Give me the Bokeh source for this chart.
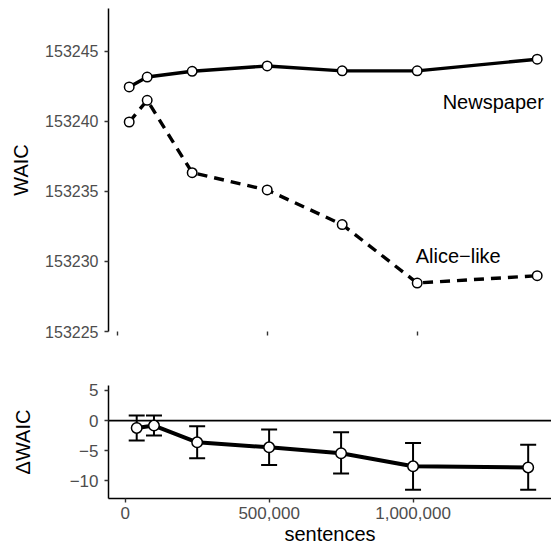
from bokeh.plotting import figure
from bokeh.layouts import column
from bokeh.models import (ColumnDataSource, FixedTicker, NumeralTickFormatter,
                          Span, Whisker, TeeHead, Range1d)
from bokeh.embed import file_html
from bokeh.resources import INLINE
from bokeh.core.properties import value

# ---- data ----
sentences = [40000, 100000, 250000, 500000, 750000, 1000000, 1400000]
waic_newspaper = [153242.45, 153243.16, 153243.57, 153243.95, 153243.6, 153243.6, 153244.43]
waic_alice = [153239.95, 153241.5, 153236.33, 153235.1, 153232.63, 153228.46, 153228.98]
delta_waic = [-1.22, -0.83, -3.62, -4.45, -5.43, -7.6, -7.78]
delta_upper = [0.83, 0.83, -0.95, -1.5, -1.96, -3.72, -4.0]
delta_lower = [-3.33, -2.5, -6.28, -7.39, -8.8, -11.5, -11.5]
top_yticks = [153225, 153230, 153235, 153240, 153245]
bottom_yticks = [-10, -5, 0, 5]
xticks = [0, 500000, 1000000]
series_labels = ["Newspaper", "Alice\u2212like"]

FONT = "Liberation Sans"
TICK_COLOR = "#333333"
LABEL_COLOR = "#4D4D4D"


def style_axes(p, tick_size):
    p.xgrid.visible = False
    p.ygrid.visible = False
    p.outline_line_color = None
    for ax in (p.xaxis[0], p.yaxis[0]):
        ax.axis_line_color = "black"
        ax.axis_line_width = 1.5
        ax.major_tick_line_color = TICK_COLOR
        ax.major_tick_line_width = 1.4
        ax.major_tick_in = 0
        ax.major_tick_out = 4
        ax.minor_tick_line_color = None
        ax.major_label_text_font = FONT
        ax.major_label_text_color = LABEL_COLOR
        ax.major_label_text_font_size = tick_size
        ax.axis_label_text_font = FONT
        ax.axis_label_text_font_style = "normal"
        ax.axis_label_text_color = "black"
        ax.axis_label_text_font_size = "20px"


# ---- top panel ----
top = figure(width=551, height=348, output_backend="svg", toolbar_location=None,
             x_range=Range1d(-29000, 1447700), y_range=Range1d(153225, 153248.05),
             min_border_left=108, min_border_right=0, min_border_top=8,
             min_border_bottom=17)
style_axes(top, "16px")
top.yaxis.ticker = FixedTicker(ticks=top_yticks)
top.yaxis.formatter = NumeralTickFormatter(format="0")
top.yaxis.axis_label = "WAIC"
top.yaxis.major_label_standoff = 6
top.yaxis.axis_label_standoff = 10
top.xaxis.ticker = FixedTicker(ticks=xticks)
top.xaxis.axis_line_color = None
top.xaxis.major_label_overrides = {t: "" for t in xticks}
top.xaxis.major_label_standoff = 0

src_top = ColumnDataSource(dict(x=sentences, news=waic_newspaper, alice=waic_alice))
top.line("x", "news", source=src_top, line_color="black", line_width=3.4)
top.line("x", "alice", source=src_top, line_color="black", line_width=3.4,
         line_dash="10 7")
top.scatter("x", "news", source=src_top, size=9.5, fill_color="white",
            line_color="black", line_width=1.5)
top.scatter("x", "alice", source=src_top, size=9.5, fill_color="white",
            line_color="black", line_width=1.5)

lab_src = ColumnDataSource(dict(x=[1422000, 995000], y=[153241.37, 153230.36],
                                text=series_labels, align=["right", "left"]))
top.text("x", "y", text="text", source=lab_src, text_align="align",
         text_baseline="alphabetic", text_font=value(FONT),
         text_font_size=value("20px"), text_color="black")

# ---- bottom panel ----
bottom = figure(width=551, height=200, output_backend="svg", toolbar_location=None,
                x_range=Range1d(-58000, 1481000), y_range=Range1d(-12.95, 5.83),
                min_border_left=108, min_border_right=0, min_border_top=37,
                min_border_bottom=50)
style_axes(bottom, "17px")
bottom.yaxis.ticker = FixedTicker(ticks=bottom_yticks)
bottom.yaxis.major_label_overrides = {-10: "\u221210", -5: "\u22125"}
bottom.yaxis.axis_label = "\u0394WAIC"
bottom.yaxis.major_label_standoff = 6
bottom.yaxis.axis_label_standoff = 33
bottom.xaxis.ticker = FixedTicker(ticks=xticks)
bottom.xaxis.formatter = NumeralTickFormatter(format="0,0")
bottom.xaxis.axis_label = "sentences"
bottom.xaxis.major_label_standoff = 4
bottom.xaxis.axis_label_standoff = 1

bottom.add_layout(Span(location=0, dimension="width", line_color="black",
                       line_width=1.7, level="underlay"))

src_bot = ColumnDataSource(dict(x=sentences, d=delta_waic, up=delta_upper,
                                lo=delta_lower))
bottom.add_layout(Whisker(source=src_bot, base="x", upper="up", lower="lo",
                          dimension="height", line_color="black", line_width=2,
                          upper_head=TeeHead(size=16, line_width=2, line_color="black"),
                          lower_head=TeeHead(size=16, line_width=2, line_color="black")))
bottom.line("x", "d", source=src_bot, line_color="black", line_width=4)
bottom.scatter("x", "d", source=src_bot, size=10.5, fill_color="white",
               line_color="black", line_width=1.5)

layout = column(top, bottom)
open("out.html", "w").write(file_html(layout, INLINE))
